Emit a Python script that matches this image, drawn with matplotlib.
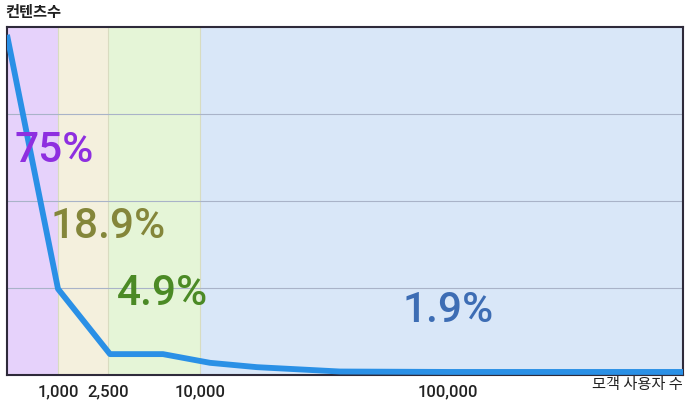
import numpy as np
import matplotlib.pyplot as plt

plt.rcParams['font.family'] = ['Noto Sans CJK KR', 'DejaVu Sans']

X_MAX = 676
tick_pos = [51, 101, 193, 441]
tick_labels = ['1,000', '2,500', '10,000', '100,000']

# background bands (segment edges along x)
band_edges = [0, 51, 101, 193, 676]
band_colors = ['#e6d2fb', '#f4f0dd', '#e5f5d7', '#d9e7f8']

# curve: number of contents vs audience size (y in grid units, 0..4)
curve_x = [0, 51, 103, 156, 203, 250, 333, 443, 676]
curve_y = [3.91, 0.99, 0.24, 0.24, 0.14, 0.09, 0.04, 0.035, 0.035]

# share labels
share_text = ['75%', '18.9%', '4.9%', '1.9%']
share_x = [8, 43, 110, 396]
share_y = [2.58, 1.71, 0.94, 0.74]
share_colors = ['#8e2fe0', '#84863a', '#4b8a25', '#3d6db4']

fig = plt.figure(figsize=(7, 4.13), dpi=100)
ax = fig.add_axes([7 / 700, 1 - 375 / 413, 676 / 700, 348 / 413])

for i in range(len(band_colors)):
    ax.axvspan(band_edges[i], band_edges[i + 1], color=band_colors[i], lw=0, zorder=0)
for xe in band_edges[1:-1]:
    ax.axvline(xe, color='#d8dcc0', lw=0.8, zorder=0.5)
for g in [1, 2, 3]:
    ax.axhline(g, color='#a9b3c8', lw=0.8, zorder=1)

ax.plot(curve_x, curve_y, color='#2a90e6', lw=4.2, solid_joinstyle='round',
        solid_capstyle='butt', zorder=3)

for t, x, y, c in zip(share_text, share_x, share_y, share_colors):
    ax.text(x, y, t, color=c, fontsize=30.5, fontweight='medium', ha='left', va='center',
            family=['Roboto', 'DejaVu Sans'], zorder=4)

ax.set_xlim(0, X_MAX)
ax.set_ylim(0, 4)
ax.set_yticks([])
ax.set_xticks(tick_pos)
ax.set_xticklabels(tick_labels, fontsize=12, color='#222222', fontweight='medium',
                   family=['Roboto', 'DejaVu Sans'])
ax.tick_params(axis='x', length=0, pad=7)
for s in ax.spines.values():
    s.set_color('#2e2a3a')
    s.set_linewidth(1.5)

fig.text(5 / 700, 1 - 12 / 413, '컨텐츠수', fontsize=11, fontweight='bold',
         color='#222222', ha='left', va='center')
fig.text(683 / 700, 1 - 385 / 413, '모객 사용자 수', fontsize=11,
         color='#222222', ha='right', va='center')

fig.savefig('out.png', dpi=100)
